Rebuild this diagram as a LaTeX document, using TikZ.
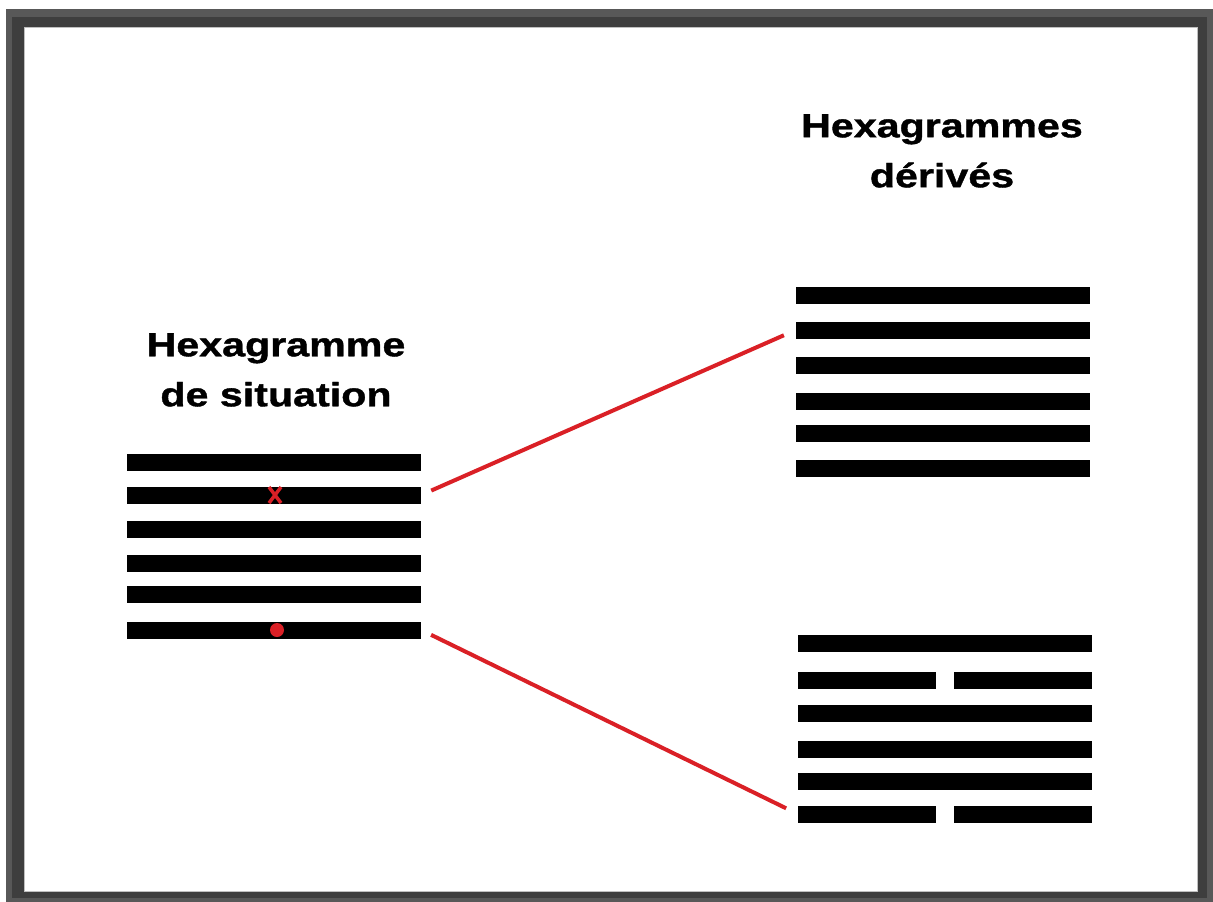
\documentclass[tikz,border=0pt]{standalone}
\usepackage{fontspec}
\newfontfamily\titlefont[FakeStretch=1.23,FakeBold=1.2]{Liberation Sans}
\definecolor{linkred}{RGB}{218,32,38}
\definecolor{frameout}{RGB}{88,88,88}
\definecolor{framein}{RGB}{62,62,62}
\begin{document}
\begin{tikzpicture}[x=1pt,y=-1pt,
  bar/.style={fill=black,inner sep=0pt,minimum height=17pt},
  wide/.style={minimum width=294pt},
  half/.style={minimum width=138pt},
  link/.style={draw=linkred,line width=4pt,shorten <=11pt,shorten >=13pt},
  title/.style={font=\titlefont\bfseries\fontsize{33.5}{50}\selectfont,align=center,inner sep=0pt}]
\useasboundingbox (0,0) rectangle (1213,902);
% frame
\fill[white](0,0)rectangle(1213,902);
\fill[frameout](6,9)rectangle(1213,902);
\fill[framein](12,17)rectangle(1207,898);
\fill[white](24,27)rectangle(1198,892);
\draw[gray!50,line width=1pt](24.5,27.5)rectangle(1197.5,891.5);
% titles
\node[title,anchor=north](sit) at (276,333){Hexagramme\\de situation};
\node[title,anchor=north](der) at (942,114){Hexagrammes\\dérivés};
% situation hexagram
\foreach \y [count=\i] in {462,495,529,563,594,630}{\node[bar,wide](s\i) at (274,\y){};}
\draw[linkred,line width=3.5pt](269,487)--(281,503)(269,503)--(281,487);
\fill[linkred](277,630)circle(7);
% derived hexagrams
\foreach \y [count=\i] in {295.5,330,365,401,433,468}{\node[bar,wide](a\i) at (943,\y){};}
\foreach \y/\i in {643.5/1,713.5/3,749/4,781/5}{\node[bar,wide](b\i) at (945,\y){};}
\foreach \y/\i in {680/2,814/6}{\node[bar,half](b\i) at (867,\y){};\node[bar,half](b\i r) at (1023,\y){};}
% links
\draw[link](s2.east)--(a2.west);
\draw[link](s6.east)--(b6.west);
\end{tikzpicture}
\end{document}
